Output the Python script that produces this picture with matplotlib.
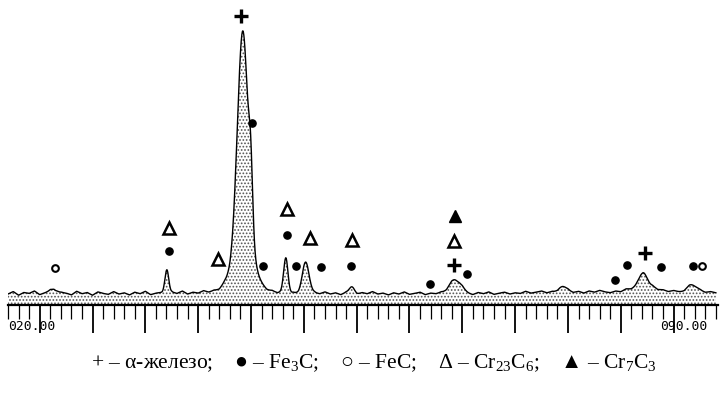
import numpy as np
import matplotlib
matplotlib.use("Agg")
import matplotlib.pyplot as plt

plt.rcParams['mathtext.fontset'] = 'custom'
plt.rcParams['mathtext.rm'] = 'Liberation Serif'
plt.rcParams['mathtext.default'] = 'rm'
plt.rcParams['hatch.linewidth'] = 0.8

# ---- data (2θ in degrees, intensity in arbitrary units) ----
bg_start, bg_step = 22.0, 0.5
bg_values = [3.6, 4.4, 3.2, 4.1, 3.8, 4.6, 3.4, 4.0, 4.8, 3.5, 4.2, 3.9, 3.3, 4.5, 3.7,
             4.1, 3.2, 4.3, 3.8, 3.5, 4.4, 3.6, 4.0, 3.3, 4.2, 3.7, 4.5, 3.4, 3.9, 4.1,
             3.5, 4.3, 3.8, 4.6, 3.6, 4.2, 3.9, 4.7, 4.1, 4.4, 3.8, 4.5, 4.0, 4.8, 4.2,
             4.6, 3.9, 4.4, 4.1, 3.7, 4.3, 3.9, 4.5, 3.6, 4.2, 3.8, 4.4, 3.5, 4.1, 3.7,
             4.3, 3.6, 4.0, 3.4, 4.2, 3.8, 3.5, 4.1, 3.7, 4.4, 3.6, 3.9, 3.3, 4.0, 3.6,
             4.3, 3.5, 3.8, 4.2, 3.4, 3.9, 3.7, 4.1, 3.5, 4.0, 3.6, 4.4, 3.8, 3.4, 4.1,
             3.7, 4.3, 3.5, 3.9, 4.2, 3.6, 4.0, 3.8, 4.5, 3.9, 4.2, 4.6, 4.0, 4.4, 3.8,
             4.3, 4.7, 4.1, 4.5, 3.9, 4.6, 4.2, 4.8, 4.3, 4.0, 4.5, 4.1, 4.7, 4.2, 4.6,
             4.0, 4.4, 4.8, 4.1, 4.5, 4.2, 4.7, 4.3, 4.0, 4.6, 4.2, 4.5, 4.1, 4.4, 4.0]

peak_pos    = [26.42, 37.03, 44.22, 44.25, 44.98, 48.30, 50.19, 54.55, 64.30, 74.43, 82.10, 82.20, 86.74]
peak_height = [1.3,   8.0,   73.5,  12.0,  18.0,  11.5,  10.0,  2.2,   4.5,   1.8,   4.5,   2.0,   2.2]
peak_sigma  = [0.25,  0.18,  0.50,  1.10,  0.18,  0.20,  0.32,  0.25,  0.55,  0.40,  0.35,  1.10,  0.50]

plus_x = [44.03, 64.20, 82.29]
plus_y = [94.8, 13.1, 17.0]
dot_x = [37.22, 45.08, 46.12, 48.39, 49.24, 51.61, 54.45, 61.93, 65.44, 79.45, 80.59, 83.81, 86.84]
dot_y = [17.7, 59.7, 12.8, 23.0, 12.8, 12.5, 12.8, 6.9, 10.2, 8.2, 13.1, 12.5, 12.8]
circ_x = [26.42, 87.69]
circ_y = [12.1, 12.8]
tri_x = [37.22, 41.86, 48.39, 50.57, 54.55, 64.20]
tri_y = [25.2, 15.1, 31.5, 22.0, 21.3, 21.0]
ftri_x = [64.30]
ftri_y = [29.2]

legend_items = ['+ – α-железо;', '● – Fe$_3$C;', '○ – FeC;', 'Δ – Cr$_{23}$C$_6$;', '▲ – Cr$_7$C$_3$']
left_label, right_label = '020.00', '090.00'

# ---- figure ----
W, H = 721, 395
fig = plt.figure(figsize=(W / 100, H / 100), dpi=100)
ax = fig.add_axes([8 / W, (H - 305) / H, 710 / W, 305 / H])

bg_theta = bg_start + bg_step * np.arange(len(bg_values))
theta = np.linspace(bg_theta[0], bg_theta[-1], 3000)
profile = np.interp(theta, bg_theta, bg_values)
for p, h, s in zip(peak_pos, peak_height, peak_sigma):
    profile = profile + h * np.exp(-0.5 * ((theta - p) / s) ** 2)

ax.fill_between(theta, 0, profile, facecolor='white', edgecolor='#555555',
                hatch='.....', linewidth=0)
ax.plot(theta, profile, color='black', lw=1.0)

ax.plot(plus_x, plus_y, ls='none', marker='+', ms=10, mew=2.4, color='black')
ax.plot(dot_x, dot_y, ls='none', marker='o', ms=5.2, color='black')
ax.plot(circ_x, circ_y, ls='none', marker='o', ms=4.8, mfc='white', mec='black', mew=1.5)
ax.plot(tri_x, tri_y, ls='none', marker='^', ms=8, mfc='white', mec='black', mew=1.8)
ax.plot(ftri_x, ftri_y, ls='none', marker='^', ms=9, color='black')

ax.set_xlim(22.0, 89.2)
ax.set_ylim(0, 100)
for s in ['top', 'right', 'left']:
    ax.spines[s].set_visible(False)
ax.spines['bottom'].set_linewidth(1.6)
ax.set_yticks([])
ax.set_xticks(np.arange(25, 90, 5))
ax.set_xticks(np.arange(22, 90, 1), minor=True)
ax.tick_params(axis='x', which='major', direction='out', length=20, width=1.3, labelbottom=False)
ax.tick_params(axis='x', which='minor', direction='out', length=10, width=0.9)

fig.text(8 / W, 1 - 327 / H, left_label, family='DejaVu Sans Mono', fontsize=9.4,
         ha='left', va='center')
fig.text(707 / W, 1 - 327 / H, right_label, family='DejaVu Sans Mono', fontsize=9.4,
         ha='right', va='center')

fig.text(374 / W, 1 - 363 / H, '    '.join(legend_items), ha='center', va='center',
         fontsize=15.5, family=['Liberation Serif', 'DejaVu Serif', 'DejaVu Sans'])

fig.savefig('out.png', dpi=100)
